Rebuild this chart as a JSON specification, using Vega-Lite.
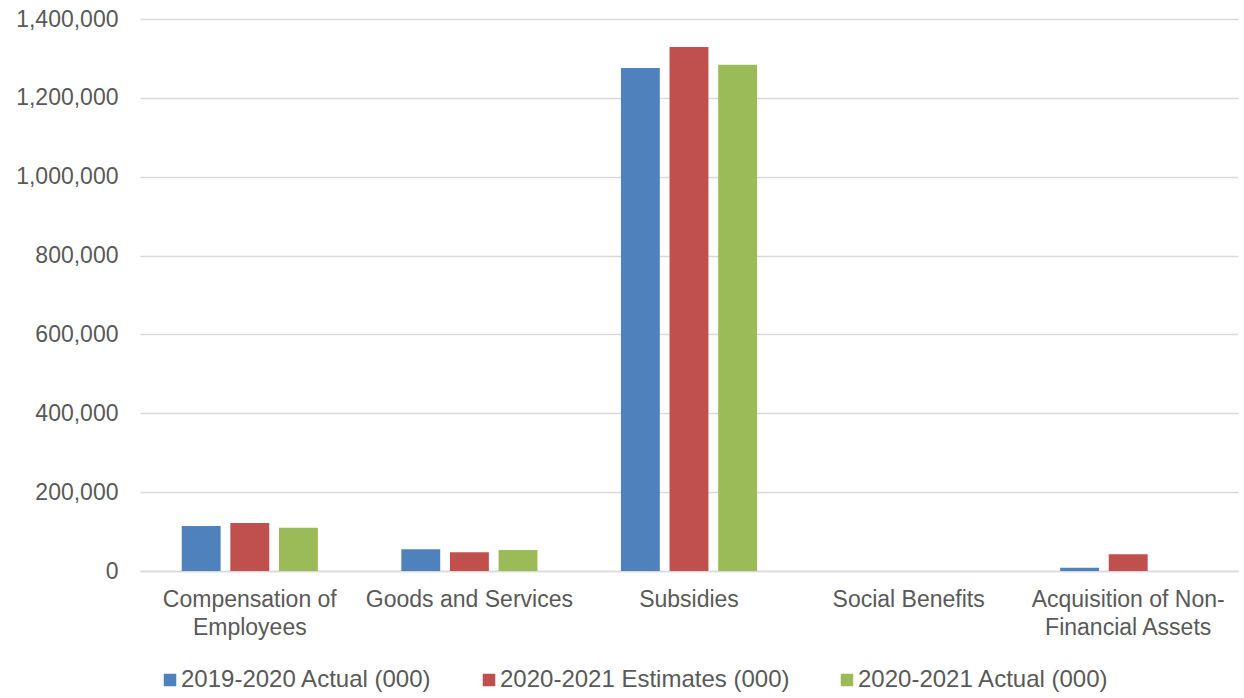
{
  "$schema": "https://vega.github.io/schema/vega-lite/v6.json",
  "autosize": {"type": "none"},
  "width": 1098,
  "height": 552,
  "padding": {"left": 140, "top": 19, "right": 6, "bottom": 127},
  "background": "white",
  "data": {
    "values": [
      {"category": "Compensation of Employees", "series": "2019-2020 Actual (000)", "value": 114400},
      {"category": "Compensation of Employees", "series": "2020-2021 Estimates (000)", "value": 122000},
      {"category": "Compensation of Employees", "series": "2020-2021 Actual (000)", "value": 110000},
      {"category": "Goods and Services", "series": "2019-2020 Actual (000)", "value": 55100},
      {"category": "Goods and Services", "series": "2020-2021 Estimates (000)", "value": 47500},
      {"category": "Goods and Services", "series": "2020-2021 Actual (000)", "value": 53400},
      {"category": "Subsidies", "series": "2019-2020 Actual (000)", "value": 1275700},
      {"category": "Subsidies", "series": "2020-2021 Estimates (000)", "value": 1329000},
      {"category": "Subsidies", "series": "2020-2021 Actual (000)", "value": 1284000},
      {"category": "Social Benefits", "series": "2019-2020 Actual (000)", "value": 0},
      {"category": "Social Benefits", "series": "2020-2021 Estimates (000)", "value": 0},
      {"category": "Social Benefits", "series": "2020-2021 Actual (000)", "value": 0},
      {"category": "Acquisition of Non-Financial Assets", "series": "2019-2020 Actual (000)", "value": 8400},
      {"category": "Acquisition of Non-Financial Assets", "series": "2020-2021 Estimates (000)", "value": 42400},
      {"category": "Acquisition of Non-Financial Assets", "series": "2020-2021 Actual (000)", "value": 0}
    ]
  },
  "mark": {"type": "bar"},
  "encoding": {
    "x": {
      "field": "category",
      "type": "nominal",
      "sort": null,
      "title": null,
      "scale": {"paddingInner": 0.38, "paddingOuter": 0.19},
      "axis": {
        "labelAngle": 0,
        "labelFont": "Liberation Sans",
        "labelFontSize": 23,
        "labelColor": "#595959",
        "labelPadding": 17,
        "labelLineHeight": 28,
        "labelBaseline": "top",
        "labelLimit": 400,
        "ticks": false,
        "domainColor": "#d9d9d9",
        "domainWidth": 1.5,
        "labelExpr": "datum.value == 'Compensation of Employees' ? ['Compensation of', 'Employees'] : datum.value == 'Acquisition of Non-Financial Assets' ? ['Acquisition of Non-', 'Financial Assets'] : datum.value"
      }
    },
    "xOffset": {
      "field": "series",
      "type": "nominal",
      "sort": null,
      "scale": {"paddingInner": 0.2}
    },
    "y": {
      "field": "value",
      "type": "quantitative",
      "title": null,
      "scale": {"domain": [0, 1400000], "nice": false},
      "axis": {
        "values": [0, 200000, 400000, 600000, 800000, 1000000, 1200000, 1400000],
        "format": ",d",
        "labelFont": "Liberation Sans",
        "labelFontSize": 23,
        "labelColor": "#595959",
        "labelPadding": 22,
        "ticks": false,
        "domain": false,
        "gridColor": "#d9d9d9",
        "gridWidth": 1.5
      }
    },
    "color": {
      "field": "series",
      "type": "nominal",
      "sort": null,
      "title": null,
      "scale": {
        "domain": ["2019-2020 Actual (000)", "2020-2021 Estimates (000)", "2020-2021 Actual (000)"],
        "range": ["#4f81bd", "#c0504d", "#9bbb59"]
      },
      "legend": {
        "orient": "none",
        "legendX": 18,
        "legendY": 649,
        "direction": "horizontal",
        "symbolType": "square",
        "symbolSize": 156,
        "symbolStrokeWidth": 0,
        "labelFont": "Liberation Sans",
        "labelFontSize": 24,
        "labelColor": "#595959",
        "labelOffset": -1,
        "labelLimit": 400,
        "columnPadding": 45
      }
    }
  },
  "config": {
    "view": {"stroke": null}
  }
}
